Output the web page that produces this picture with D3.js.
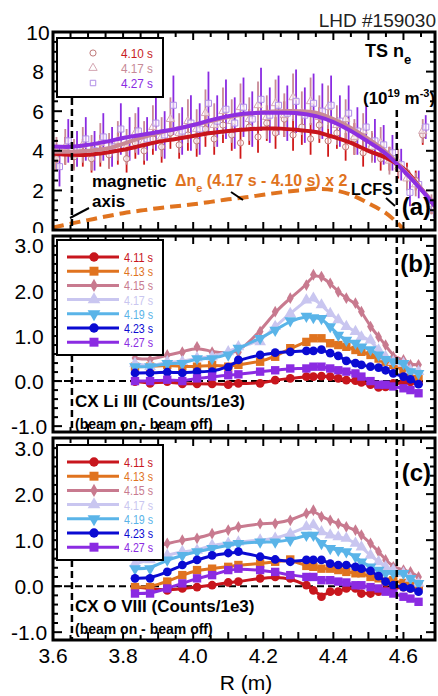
<!DOCTYPE html>
<html><head><meta charset="utf-8">
<script src="https://cdn.jsdelivr.net/npm/d3@7"></script>
<style>body{margin:0;background:#fff} svg{display:block;font-family:"Liberation Sans",Arial,sans-serif}</style>
</head><body><svg id="c" width="438" height="696"></svg>
<script>
// ---------- Panel (a): Thomson scattering n_e ----------
const tsR = [3.610,3.635,3.660,3.685,3.710,3.735,3.760,3.785,3.810,3.835,3.860,3.885,3.910,3.935,3.960,3.985,4.010,4.035,4.060,4.085,4.110,4.135,4.160,4.185,4.210,4.235,4.260,4.285,4.310,4.335,4.360,4.385,4.410,4.435,4.460,4.485,4.510,4.535,4.560,4.585,4.610,4.635,4.655,4.680];
const ne410 = [3.6,4.0,3.7,3.9,3.6,4.0,3.8,4.1,3.6,4.4,4.0,4.6,4.2,4.9,4.3,4.8,4.5,5.1,4.6,5.3,4.8,4.4,5.2,4.7,5.4,4.9,5.6,4.8,5.2,4.6,5.3,4.5,4.9,4.2,4.6,3.9,4.2,3.6,3.6,3.1,2.9,2.5,4.8,1.2];
const ne417 = [3.9,4.2,3.8,4.3,3.9,4.4,4.0,4.5,4.2,4.9,4.5,5.2,4.7,5.6,4.9,5.5,5.1,5.9,5.3,6.0,5.5,6.2,5.6,6.3,5.7,6.4,5.8,6.7,5.9,6.5,5.7,6.2,5.3,5.6,4.7,5.0,4.2,4.4,3.5,3.4,2.6,2.3,5.0,1.3];
const ne427 = [3.2,4.5,4.1,4.6,4.0,4.7,4.2,5.1,4.6,5.0,4.6,5.4,4.8,6.3,5.0,5.4,5.1,6.4,5.5,6.1,5.4,6.2,5.6,6.6,5.8,6.3,5.9,6.5,5.8,6.4,6.0,6.3,5.5,5.9,5.0,5.2,4.5,4.3,3.9,3.3,1.9,2.3,5.2,1.1];
const err410 = [0.6,0.7,0.6,0.7,0.7,0.8,0.7,0.8,0.7,0.8,0.7,0.8,0.8,0.8,0.7,0.8,0.8,0.9,0.8,0.9,0.8,0.8,0.9,0.8,0.9,0.8,0.9,0.8,0.9,0.8,0.9,0.8,0.8,0.7,0.8,0.7,0.7,0.6,0.6,0.5,0.5,0.5,0.5,0.4];
const err417 = [0.8,0.9,0.8,0.9,0.9,1.0,0.9,1.0,0.9,1.0,1.0,1.1,1.0,1.1,1.0,1.1,1.0,1.2,1.1,1.2,1.1,1.2,1.1,1.2,1.1,1.2,1.1,1.2,1.1,1.2,1.1,1.1,1.0,1.0,0.9,0.9,0.8,0.8,0.7,0.7,0.6,0.6,0.6,0.5];
const err427 = [1.0,1.1,0.9,1.1,1.0,1.2,1.0,1.3,1.1,1.2,1.1,1.4,1.2,1.5,1.2,1.4,1.3,1.6,1.3,1.5,1.3,1.5,1.4,1.6,1.4,1.5,1.4,1.6,1.4,1.5,1.4,1.5,1.3,1.4,1.2,1.2,1.1,1.0,0.9,0.8,0.7,0.7,0.6,0.5];
const fitR = [3.60,3.65,3.70,3.75,3.80,3.85,3.90,3.95,4.00,4.05,4.10,4.15,4.20,4.25,4.30,4.35,4.40,4.45,4.50,4.55,4.60,4.65,4.69];
const fit410 = [3.85,3.8,3.8,3.9,4.05,4.25,4.45,4.6,4.75,4.9,5.0,5.08,5.12,5.12,5.05,4.95,4.7,4.4,4.0,3.65,3.1,2.1,1.2];
const fit417 = [3.95,3.95,4.0,4.1,4.35,4.65,4.9,5.1,5.3,5.5,5.7,5.85,5.95,6.0,6.0,5.92,5.6,5.15,4.6,3.95,3.05,2.1,1.25];
const fit427 = [4.22,4.2,4.3,4.45,4.65,4.8,4.95,5.1,5.3,5.55,5.75,5.88,5.92,5.92,5.9,5.75,5.45,5.0,4.45,3.85,3.0,2.05,1.2];
const dneR = [3.60,3.65,3.70,3.75,3.80,3.85,3.90,3.95,4.00,4.05,4.10,4.15,4.20,4.25,4.30,4.35,4.40,4.45,4.50,4.55,4.58,4.60];
const dneVal = [0.12,0.32,0.5,0.68,0.85,0.98,1.1,1.2,1.3,1.42,1.55,1.65,1.78,1.9,2.0,2.08,2.02,1.78,1.35,0.85,0.4,0.05];
const tsTimes = ["4.10 s","4.17 s","4.27 s"];

// ---------- Panels (b),(c): CX spectroscopy channels ----------
const cxR = [3.834,3.877,3.926,3.969,4.011,4.054,4.100,4.129,4.191,4.234,4.277,4.323,4.343,4.366,4.391,4.414,4.437,4.463,4.480,4.506,4.529,4.549,4.571,4.600,4.620,4.643];
const cxTimes = ["4.11 s","4.13 s","4.15 s","4.17 s","4.19 s","4.23 s","4.27 s"];
const li411 = [-0.01,-0.05,-0.01,-0.06,-0.06,-0.06,-0.08,-0.05,-0.05,0.02,0.06,0.10,0.10,0.11,0.10,0.06,0.02,0.01,-0.03,-0.08,-0.14,-0.13,-0.05,-0.04,-0.02,-0.04];
const li413 = [0.32,0.32,0.36,0.32,0.32,0.36,0.32,0.36,0.43,0.54,0.73,0.87,0.95,0.95,0.84,0.80,0.76,0.69,0.65,0.58,0.50,0.43,0.36,0.24,0.17,0.10];
const li415 = [0.51,0.47,0.58,0.64,0.76,0.64,0.62,0.64,1.10,1.54,1.84,2.13,2.36,2.32,2.17,1.98,1.84,1.73,1.54,1.21,0.98,0.80,0.54,0.47,0.36,0.36];
const li417 = [0.39,0.32,0.43,0.43,0.51,0.54,0.65,0.76,0.87,1.21,1.50,1.80,1.84,1.69,1.50,1.36,1.21,1.10,0.98,0.91,0.69,0.54,0.43,0.39,0.24,0.21];
const li419 = [0.32,0.32,0.39,0.39,0.50,0.50,0.58,0.73,0.95,1.13,1.34,1.44,1.41,1.39,1.21,1.02,0.91,0.84,0.76,0.70,0.58,0.48,0.43,0.39,0.21,0.17];
const li423 = [0.18,0.18,0.20,0.18,0.21,0.21,0.31,0.47,0.58,0.63,0.65,0.67,0.67,0.70,0.62,0.56,0.45,0.40,0.36,0.32,0.30,0.24,0.17,0.10,0.04,-0.07];
const li427 = [0.00,0.00,0.03,0.00,0.06,0.10,0.13,0.15,0.21,0.24,0.28,0.28,0.32,0.32,0.28,0.24,0.21,0.17,0.10,0.00,-0.08,-0.08,-0.12,-0.16,-0.20,-0.27];
const o411 = [-0.02,-0.05,-0.09,-0.05,-0.02,0.02,0.08,0.10,0.17,0.20,0.17,0.02,-0.09,-0.23,-0.12,-0.12,-0.05,-0.05,-0.16,-0.16,-0.12,-0.09,-0.05,-0.02,-0.05,-0.05];
const o413 = [-0.02,-0.02,0.10,0.24,0.35,0.38,0.42,0.46,0.49,0.53,0.58,0.44,0.42,0.38,0.38,0.35,0.31,0.28,0.28,0.20,0.17,0.10,0.13,0.07,0.04,0.00];
const o415 = [0.78,0.82,0.93,1.00,1.04,1.14,1.22,1.29,1.36,1.36,1.43,1.58,1.65,1.51,1.43,1.36,1.29,1.22,1.11,0.93,0.75,0.57,0.42,0.35,0.31,0.20];
const o417 = [0.49,0.57,0.67,0.75,0.78,0.89,0.93,0.96,1.00,1.04,1.14,1.29,1.33,1.18,1.11,1.07,1.04,0.93,0.85,0.67,0.53,0.42,0.35,0.28,0.17,0.06];
const o419 = [0.38,0.38,0.57,0.67,0.75,0.82,0.89,0.93,0.96,0.96,1.00,1.11,1.11,0.93,0.82,0.78,0.75,0.64,0.53,0.42,0.35,0.28,0.28,0.28,0.17,0.06];
const o423 = [0.17,0.17,0.31,0.46,0.57,0.67,0.72,0.75,0.64,0.58,0.53,0.57,0.57,0.57,0.49,0.46,0.46,0.42,0.38,0.33,0.22,0.10,0.02,-0.02,-0.05,-0.12];
const o427 = [-0.16,-0.16,-0.05,0.06,0.17,0.24,0.35,0.38,0.35,0.31,0.24,0.20,0.20,0.13,0.13,0.10,0.08,0.02,0.02,-0.02,-0.05,-0.12,-0.16,-0.23,-0.27,-0.34];

const magAxisR = 3.654, lcfsR = 4.581;
const xTickLabels = ["3.6","3.8","4.0","4.2","4.4","4.6"];
const yLabelsA = ["10","8","6","4","2","0"];
const yLabelsBC = ["3.0","2.0","1.0","0.0","-1.0"];

// ---------- styles ----------
const cxColors = ["#c8161d","#e0731f","#c87a8f","#c9c6f0","#5ab4e8","#0a0ad2","#8b2be2"];
const cxSymbols = [d3.symbolCircle,d3.symbolSquare,d3.symbolDiamond,d3.symbolTriangle,d3.symbolTriangle,d3.symbolCircle,d3.symbolSquare];
const cxSizes = [60,70,40,60,60,60,70];
const cxRot = [0,0,0,0,180,0,0];
const tsLine = ["#c8141c","#c98a96","#8e2fe0"];
const tsBar = ["#d01818","#c88a96","#8a2be2"];
const tsMark = ["#c07a7a","#d4a6b2","#b08ee6"];
const tsSym = [d3.symbolCircle,d3.symbolTriangle,d3.symbolSquare];

const svg = d3.select("#c");
const x = d3.scaleLinear().domain([3.6,4.69]).range([53,435]);
const yA = d3.scaleLinear().domain([0,10]).range([230,32]);
const yB = d3.scaleLinear().domain([-1.13,3.22]).range([432,236]);
const yC = d3.scaleLinear().domain([-1.17,3.22]).range([640,438]);
const defs = svg.append("defs");
function clip(id,y0,y1){defs.append("clipPath").attr("id",id).append("rect").attr("x",53).attr("y",y0).attr("width",382).attr("height",y1-y0);}
clip("ca",32,230); clip("cb",236,432); clip("cc",438,640);
defs.append("clipPath").attr("id","labA").append("rect").attr("x",0).attr("y",0).attr("width",53).attr("height",233);

// ---------- ticks & frames ----------
const xMinor = d3.range(0,22).map(i=>+(3.6+0.05*i).toFixed(2));
function drawTicks(y, top, bottom, yMinor, yMajor){
  const g = svg.append("g").attr("stroke","#000").attr("stroke-width",2);
  xMinor.forEach(v=>{
    const L = (Math.round(v*100)%10===0)?8:5;
    g.append("line").attr("x1",x(v)).attr("x2",x(v)).attr("y1",bottom).attr("y2",bottom-L);
    g.append("line").attr("x1",x(v)).attr("x2",x(v)).attr("y1",top).attr("y2",top+L);
  });
  yMinor.forEach(v=>{
    const L = yMajor.some(m=>Math.abs(m-v)<1e-6)?9:5;
    g.append("line").attr("x1",53).attr("x2",53+L).attr("y1",y(v)).attr("y2",y(v));
    g.append("line").attr("x1",435).attr("x2",435-L).attr("y1",y(v)).attr("y2",y(v));
  });
  svg.append("rect").attr("x",53).attr("y",top).attr("width",382).attr("height",bottom-top)
    .attr("fill","none").attr("stroke","#000").attr("stroke-width",3);
}

function dashedV(R, y0, y1){
  svg.append("line").attr("x1",x(R)).attr("x2",x(R)).attr("y1",y0).attr("y2",y1)
    .attr("stroke","#000").attr("stroke-width",2.5).attr("stroke-dasharray","7,4");
}

// ---------- Panel (a) ----------
(function(){
  const ga = svg.append("g").attr("clip-path","url(#ca)");
  const sets = [[ne410,err410],[ne417,err417],[ne427,err427]];
  const dx = [0,0,3];
  sets.forEach((s,k)=>{
    ga.append("g").selectAll("line").data(tsR).join("line")
      .attr("x1",(r)=>x(r)+dx[k]).attr("x2",(r)=>x(r)+dx[k])
      .attr("y1",(r,i)=>yA(s[0][i]-s[1][i])).attr("y2",(r,i)=>yA(s[0][i]+s[1][i]))
      .attr("stroke",tsBar[k]).attr("stroke-width",1.8);
  });
  sets.forEach((s,k)=>{
    ga.append("g").selectAll("path").data(tsR).join("path")
      .attr("transform",(r,i)=>`translate(${x(r)+dx[k]},${yA(s[0][i])})`)
      .attr("d",d3.symbol(tsSym[k],k===2?36:30)).attr("fill","#fff").attr("fill-opacity",0.6)
      .attr("stroke",tsMark[k]).attr("stroke-width",1);
  });
  const fits=[fit410,fit417,fit427];
  const ln = d3.line().curve(d3.curveCatmullRom);
  fits.forEach((f,k)=>{
    ga.append("path").attr("d",ln(fitR.map((r,i)=>[x(r),yA(f[i])])))
      .attr("fill","none").attr("stroke",tsLine[k]).attr("stroke-width",4);
  });
  ga.append("path").attr("d",ln(dneR.map((r,i)=>[x(r),yA(dneVal[i])])))
    .attr("fill","none").attr("stroke","#e0731f").attr("stroke-width",4).attr("stroke-dasharray","11,6");
  dashedV(magAxisR, 98, 230);
  dashedV(lcfsR, 110, 230);
  drawTicks(yA,32,230,d3.range(0,20).map(i=>i*0.5),[0,2,4,6,8,10]);
  // y labels
  const gl = svg.append("g").attr("clip-path","url(#labA)");
  gl.selectAll("text").data(yLabelsA).join("text").attr("x",38).attr("y",d=>yA(+d)-(d==="0"?2:0)).attr("dy","0.36em")
    .attr("text-anchor","middle").attr("font-size",21).text(d=>d);
  // legend
  svg.append("rect").attr("x",57).attr("y",38).attr("width",106).attr("height",59)
    .attr("fill","#fff").attr("stroke","#000").attr("stroke-width",2);
  const txtCol=["#c81e1e","#c88a96","#8a2be2"];
  tsTimes.forEach((t,k)=>{
    const yy = 53+15*k;
    svg.append("path").attr("transform",`translate(93,${yy})`).attr("d",d3.symbol(tsSym[k],30))
      .attr("fill","none").attr("stroke",tsMark[k]).attr("stroke-width",1);
    svg.append("text").attr("x",121).attr("y",yy+5).attr("font-size",13).attr("fill",txtCol[k])
      .attr("textLength",32).attr("lengthAdjust","spacingAndGlyphs").text(t);
  });
  // annotations
  svg.append("text").attr("x",436).attr("y",27).attr("text-anchor","end").attr("font-size",19).attr("fill","#222").text("LHD #159030");
  const t1 = svg.append("text").attr("x",365).attr("y",57).attr("font-size",18).attr("font-weight","bold");
  t1.append("tspan").text("TS n");
  t1.append("tspan").attr("font-size",13).attr("dy",7).text("e");
  const t2 = svg.append("text").attr("x",363).attr("y",104).attr("font-size",17).attr("font-weight","bold");
  t2.append("tspan").text("(10");
  t2.append("tspan").attr("font-size",11).attr("dy",-7).text("19");
  t2.append("tspan").attr("dy",7).text(" m");
  t2.append("tspan").attr("font-size",11).attr("dy",-7).text("-3");
  t2.append("tspan").attr("dy",7).text(")");
  svg.append("text").attr("x",92).attr("y",187).attr("font-size",17).attr("font-weight","bold").text("magnetic");
  svg.append("text").attr("x",92).attr("y",207).attr("font-size",17).attr("font-weight","bold").text("axis");
  svg.append("line").attr("x1",70).attr("y1",218).attr("x2",89).attr("y2",208).attr("stroke","#000").attr("stroke-width",2);
  const t3 = svg.append("text").attr("x",175).attr("y",186).attr("font-size",16).attr("font-weight","bold").attr("fill","#e0731f");
  t3.append("tspan").text("Δn");
  t3.append("tspan").attr("font-size",11).attr("dy",6).text("e");
  t3.append("tspan").attr("dy",-6).text(" (4.17 s - 4.10 s) x 2");
  svg.append("line").attr("x1",231).attr("y1",192).attr("x2",243).attr("y2",200).attr("stroke","#000").attr("stroke-width",2);
  svg.append("text").attr("x",351).attr("y",195).attr("font-size",16).attr("font-weight","bold").text("LCFS");
  svg.append("line").attr("x1",386).attr("y1",198).attr("x2",395).attr("y2",206).attr("stroke","#000").attr("stroke-width",2);
  svg.append("text").attr("x",431).attr("y",215).attr("text-anchor","end").attr("font-size",24).attr("font-weight","bold").text("(a)");
})();

// ---------- Panels (b),(c) ----------
function cxPanel(y, top, bottom, clipId, series, legTop, label, labelY, title, titleY){
  const g = svg.append("g").attr("clip-path",`url(#${clipId})`);
  g.append("line").attr("x1",53).attr("x2",435).attr("y1",y(0)).attr("y2",y(0))
    .attr("stroke","#000").attr("stroke-width",2).attr("stroke-dasharray","7,4");
  const ln = d3.line().curve(d3.curveBasis);
  series.forEach((s,k)=>{
    g.append("path").attr("d",ln(cxR.map((r,i)=>[x(r),y(s[i])])))
      .attr("fill","none").attr("stroke",cxColors[k]).attr("stroke-width",3);
    g.append("g").selectAll("path").data(cxR).join("path")
      .attr("transform",(r,i)=>`translate(${x(r)},${y(s[i])}) rotate(${cxRot[k]})`)
      .attr("d",d3.symbol(cxSymbols[k],cxSizes[k])).attr("fill",cxColors[k]);
  });
  dashedV(lcfsR, top, bottom);
  dashedV(magAxisR, legTop+115, bottom);
  drawTicks(y, top, bottom, d3.range(-5,16).map(i=>+(i*0.2).toFixed(1)), [-1,0,1,2,3]);
  svg.append("g").selectAll("text").data(yLabelsBC).join("text").attr("x",29).attr("y",d=>y(+d)).attr("dy","0.36em")
    .attr("text-anchor","middle").attr("font-size",21).text(d=>d);
  // legend
  svg.append("rect").attr("x",57).attr("y",legTop).attr("width",106).attr("height",115)
    .attr("fill","#fff").attr("stroke","#000").attr("stroke-width",2);
  cxTimes.forEach((t,k)=>{
    const yy = legTop+17+14.2*k;
    svg.append("line").attr("x1",67).attr("x2",119).attr("y1",yy).attr("y2",yy).attr("stroke",cxColors[k]).attr("stroke-width",3);
    svg.append("path").attr("transform",`translate(94,${yy}) rotate(${cxRot[k]})`).attr("d",d3.symbol(cxSymbols[k],cxSizes[k]+10)).attr("fill",cxColors[k]);
    svg.append("text").attr("x",124).attr("y",yy+5).attr("font-size",12.5).attr("fill",cxColors[k])
      .attr("textLength",29).attr("lengthAdjust","spacingAndGlyphs").text(t);
  });
  svg.append("text").attr("x",431).attr("y",labelY).attr("text-anchor","end").attr("font-size",24).attr("font-weight","bold").text(label);
  svg.append("text").attr("x",75).attr("y",titleY).attr("font-size",17).attr("font-weight","bold").text(title);
  svg.append("text").attr("x",75).attr("y",titleY+22).attr("font-size",14).attr("font-weight","bold").text("(beam on - beam off)");
}
cxPanel(yB,236,432,"cb",[li411,li413,li415,li417,li419,li423,li427],240,"(b)",272,"CX Li III (Counts/1e3)",407);
cxPanel(yC,438,640,"cc",[o411,o413,o415,o417,o419,o423,o427],445,"(c)",481,"CX O VIII (Counts/1e3)",612);

// x labels
svg.append("g").selectAll("text").data(xTickLabels).join("text").attr("x",d=>x(+d)).attr("y",663)
  .attr("text-anchor","middle").attr("font-size",21).text(d=>d);
svg.append("text").attr("x",246).attr("y",690).attr("text-anchor","middle").attr("font-size",21).text("R (m)");
</script></body></html>
